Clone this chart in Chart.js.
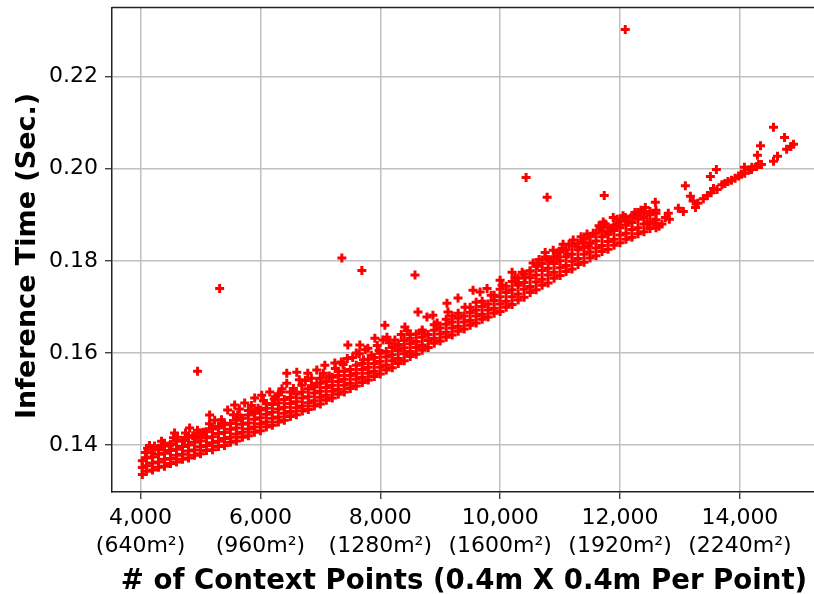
<!DOCTYPE html>
<html>
<head>
<meta charset="utf-8">
<script src="https://cdn.jsdelivr.net/npm/chart.js@4.4.0/dist/chart.umd.min.js"></script>
<style>
  html, body { margin: 0; padding: 0; background: #fff; overflow: hidden; }
  canvas { display: block; }
</style>
</head>
<body>
<canvas id="chart" width="830" height="594"></canvas>
<script>
// tick labels
const xTicks = [4000, 6000, 8000, 10000, 12000, 14000];
const xTickAreas = ['(640m²)', '(960m²)', '(1280m²)', '(1600m²)', '(1920m²)', '(2240m²)'];
const yTicks = [0.14, 0.16, 0.18, 0.20, 0.22];
const yTitle = 'Inference Time (Sec.)';

// dense main band, read column by column (low / mid / high edge)
const colX = [4030, 4100, 4200, 4300, 4400, 4500, 4600, 4700, 4800, 4900,
  5000, 5100, 5200, 5300, 5400, 5500, 5600, 5700, 5800, 5900,
  6000, 6100, 6200, 6300, 6400, 6500, 6600, 6700, 6800, 6900,
  7000, 7100, 7200, 7300, 7400, 7500, 7600, 7700, 7800, 7900,
  8000, 8100, 8200, 8300, 8400, 8500, 8600, 8700, 8800, 8900,
  9000, 9100, 9200, 9300, 9400, 9500, 9600, 9700, 9800, 9900,
  10000, 10100, 10200, 10300, 10400, 10500, 10600, 10700, 10800, 10900,
  11000, 11100, 11200, 11300, 11400, 11500, 11600, 11700, 11800, 11900,
  12000, 12100, 12200, 12300, 12400, 12500, 12600];
const lowY = [.1336, .1343, .1346, .1352, .1354, .1360, .1363, .1369, .1372, .1378,
  .1381, .1388, .1390, .1397, .1399, .1406, .1409, .1417, .1420, .1428,
  .1431, .1439, .1443, .1450, .1454, .1462, .1466, .1474, .1477, .1485,
  .1489, .1497, .1502, .1510, .1515, .1523, .1528, .1536, .1541, .1549,
  .1554, .1563, .1568, .1577, .1583, .1592, .1597, .1606, .1612, .1621,
  .1626, .1634, .1639, .1647, .1652, .1660, .1665, .1673, .1678, .1686,
  .1690, .1699, .1705, .1715, .1721, .1731, .1737, .1747, .1752, .1762,
  .1768, .1777, .1782, .1792, .1797, .1806, .1811, .1820, .1825, .1834,
  .1839, .1847, .1851, .1859, .1863, .1870, .1872];
const midY = [.1351, .1355, .1361, .1363, .1369, .1371, .1378, .1380, .1387, .1389,
  .1396, .1399, .1405, .1408, .1414, .1417, .1424, .1428, .1435, .1439,
  .1446, .1450, .1458, .1461, .1469, .1473, .1481, .1485, .1492, .1496,
  .1504, .1508, .1517, .1521, .1530, .1534, .1543, .1547, .1556, .1560,
  .1569, .1574, .1583, .1588, .1598, .1603, .1612, .1617, .1627, .1632,
  .1641, .1645, .1654, .1658, .1667, .1671, .1680, .1684, .1693, .1697,
  .1706, .1712, .1722, .1728, .1738, .1744, .1754, .1760, .1769, .1775,
  .1785, .1790, .1799, .1805, .1814, .1819, .1828, .1833, .1842, .1847,
  .1856, .1860, .1868, .1872, .1880, .1883, .1889];
const highY = [.1366, .1372, .1374, .1380, .1382, .1388, .1391, .1397, .1400, .1406,
  .1409, .1416, .1418, .1425, .1427, .1434, .1437, .1445, .1448, .1456,
  .1459, .1467, .1471, .1478, .1482, .1490, .1494, .1502, .1505, .1513,
  .1517, .1525, .1530, .1538, .1543, .1551, .1556, .1564, .1569, .1577,
  .1582, .1591, .1596, .1605, .1611, .1620, .1625, .1634, .1640, .1649,
  .1654, .1662, .1667, .1675, .1680, .1688, .1693, .1701, .1706, .1714,
  .1722, .1731, .1737, .1747, .1753, .1763, .1769, .1779, .1784, .1794,
  .1800, .1809, .1814, .1824, .1829, .1838, .1843, .1852, .1857, .1866,
  .1872, .1878, .1883, .1890, .1894, .1900, .1903];

// filled zone just above the main band
const fillX = [4080, 4200, 4300, 4400, 4500, 4600, 4700, 4800, 4900,
  5000, 5100, 5200, 5300, 5400, 5500, 5600, 5700, 5800, 5900,
  6000, 6100, 6200, 6300, 6400, 6500, 6600, 6700, 6800, 6900,
  7000, 7100, 7200, 7300, 7400, 7500, 7600, 7700, 7800, 7900,
  8000, 8100, 8200, 8300, 8400, 8500, 8600, 8700, 8900, 9100, 9300, 9500, 9700, 9900,
  10000, 10100, 10200, 10300, 10400, 10500, 10600, 10700, 10800, 10900,
  11000, 11100, 11200, 11300, 11400, 11500, 11600, 11700, 11800, 11900,
  12000, 12100, 12200, 12300, 12400, 12500, 12600];
const fillY = [.1384, .1391, .1393, .1399, .1401, .1408, .1410, .1417, .1419,
  .1426, .1429, .1435, .1437, .1444, .1447, .1454, .1458, .1465, .1469,
  .1476, .1480, .1488, .1491, .1499, .1503, .1511, .1515, .1522, .1526,
  .1534, .1538, .1547, .1551, .1560, .1564, .1573, .1577, .1586, .1590,
  .1599, .1603, .1612, .1617, .1627, .1632, .1641, .1646, .1661, .1673, .1686, .1699, .1712, .1725,
  .1738, .1745, .1755, .1762, .1771, .1778, .1788, .1794, .1803, .1809,
  .1819, .1824, .1833, .1838, .1847, .1852, .1860, .1865, .1873, .1877,
  .1886, .1890, .1896, .1899, .1905, .1907, .1910];

// second, looser row above that
const fill2X = [4150, 4350, 4550, 4750, 4950, 5150, 5350, 5550, 5650, 5850,
  6050, 6250, 6350, 6550, 6650, 6850, 7050, 7250, 7350, 7450,
  7650, 7750, 7950, 8150, 8350, 8450, 10550, 10650, 10750, 10950,
  11050, 11150, 11350, 11450, 11650, 11750, 11950, 12050, 12250, 12350];
const fill2Y = [.1399, .1408, .1416, .1426, .1432, .1446, .1455, .1466, .1478, .1486,
  .1496, .1505, .1515, .1523, .1542, .1545, .1556, .1566, .1580, .1588,
  .1598, .1607, .1616, .1622, .1640, .1648, .1795, .1803, .1808, .1817,
  .1836, .1836, .1852, .1858, .1876, .1880, .1890, .1898, .1905, .1910];

// scattered runs sitting above the main band
const upperX = [4117, 4184, 4234, 4300, 4401, 4480, 4568, 4618, 4735, 4819, 4870, 4936,
  5050, 5153, 5237, 5300, 5380, 5454, 5571, 5621, 5680, 5738, 5800, 5905, 5905, 5960,
  6022, 6100, 6156, 6230, 6300, 6360, 6440, 6440, 6500, 6607, 6690, 6750, 6791, 6850,
  6941, 6941, 7000, 7075, 7150, 7242, 7300, 7380, 7459, 7540, 7600, 7659, 7720, 7793,
  7850, 7910, 7980, 8044, 8077, 8111, 8244, 8300, 8411, 8500, 8629, 8700, 8779, 8879,
  8950, 9113, 9130, 9200, 9297, 9414, 9548, 9600, 9665, 9782, 9850, 9999, 10032, 10199,
  10250, 10300, 10367, 10417, 10500, 10620, 10751, 10820, 10885, 10950, 11035, 11120,
  11219, 11300, 11386, 11470, 11553, 11670, 11720, 11800, 11887, 11887, 11960, 12088,
  12138, 12221, 12300, 12422, 12455, 12556, 12589];
const upperY = [.1393, .1383, .1398, .1390, .1404, .1398, .1426, .1417, .1411, .1437, .1420, .1415,
  .1428, .1465, .1454, .1440, .1448, .1476, .1487, .1465, .1458, .1491, .1475, .1502, .1472, .1480,
  .1508, .1490, .1515, .1500, .1510, .1522, .1556, .1534, .1515, .1558, .1530, .1540, .1556, .1528,
  .1563, .1534, .1545, .1573, .1550, .1578, .1560, .1575, .1617, .1590, .1600, .1617, .1585, .1610,
  .1595, .1632, .1605, .1628, .1660, .1634, .1628, .1618, .1656, .1640, .1689, .1650, .1678, .1682,
  .1665, .1708, .1689, .1680, .1719, .1699, .1736, .1710, .1732, .1740, .1725, .1758, .1747, .1775,
  .1764, .1751, .1775, .1764, .1778, .1790, .1818, .1800, .1823, .1808, .1827, .1815,
  .1845, .1830, .1840, .1832, .1860, .1871, .1884, .1862, .1894, .1871, .1880, .1894,
  .1884, .1899, .1905, .1916, .1881, .1884, .1927];

// thinner run on the right
const tailX = [12650, 12700, 12756, 12806, 12823, 12973, 13057, 13174, 13220, 13260, 13300,
  13390, 13458, 13520, 13560, 13620, 13700, 13750, 13800, 13860, 13920, 13980, 14026,
  14080, 14150, 14200, 14280, 14360, 14561, 14628, 14780, 14850, 14895];
const tailY = [.1875, .1880, .1894, .1903, .1890, .1914, .1907, .1940, .1930, .1916, .1925,
  .1935, .1942, .1948, .1957, .1955, .1965, .1968, .1972, .1975, .1979, .1984, .1988,
  .1990, .1997, .2003, .2005, .2009, .2016, .2027, .2042, .2048, .2053];

// isolated outliers
const outlierX = [4952, 5320, 7359, 7693, 8579, 10433, 10784, 11737, 12088, 13090,
  13508, 13608, 14076, 14193, 14293, 14310, 14344, 14561, 14745];
const outlierY = [.1560, .1740, .1806, .1779, .1769, .1981, .1938, .1942, .2302, .1963,
  .1983, .1998, .2003, .1998, .2029, .2009, .2050, .2090, .2068];

function pts(xs, ys) {
  return xs.map((x, i) => ({ x: x, y: ys[i] }));
}

const marker = {
  pointStyle: 'cross',
  pointRadius: 4.5,
  pointBorderWidth: 3,
  borderColor: '#ff0000',
  backgroundColor: '#ff0000',
  showLine: false
};

const datasets = [
  { data: pts(colX, lowY) },
  { data: pts(colX, midY) },
  { data: pts(colX, highY) },
  { data: pts(fillX, fillY) },
  { data: pts(fill2X, fill2Y) },
  { data: pts(upperX, upperY) },
  { data: pts(tailX, tailY) },
  { data: pts(outlierX, outlierY) }
].map(d => Object.assign({}, marker, d));

const font = 'DejaVu Sans';

// top spine + y title (matplotlib puts it a bit below the axis centre)
const extras = {
  id: 'extras',
  afterDraw(chart) {
    const { ctx, chartArea } = chart;
    ctx.save();
    ctx.strokeStyle = '#222';
    ctx.lineWidth = 1.5;
    ctx.beginPath();
    ctx.moveTo(chartArea.left, chartArea.top);
    ctx.lineTo(chartArea.right, chartArea.top);
    ctx.stroke();

    ctx.translate(28, 256);
    ctx.rotate(-Math.PI / 2);
    ctx.fillStyle = '#000';
    ctx.font = 'bold 27px "' + font + '"';
    ctx.textAlign = 'center';
    ctx.textBaseline = 'middle';
    ctx.fillText(yTitle, 0, 0);
    ctx.restore();
  }
};

new Chart(document.getElementById('chart'), {
  type: 'scatter',
  data: { datasets },
  options: {
    responsive: false,
    animation: false,
    layout: { padding: { top: 7, left: 0, right: 14, bottom: 0 } },
    plugins: { legend: { display: false }, tooltip: { enabled: false } },
    scales: {
      x: {
        type: 'linear',
        min: 3524,
        max: 15270,
        afterBuildTicks: s => { s.ticks = xTicks.map(v => ({ value: v })); },
        afterFit: s => { s.height = 102; s.paddingLeft = 0; s.paddingRight = 0; },
        ticks: {
          autoSkip: false,
          maxRotation: 0,
          padding: 5,
          color: '#000',
          font: { family: font, size: 22, lineHeight: 1.27 },
          callback: (v, i) => [v.toLocaleString('en-US'), xTickAreas[i]]
        },
        grid: { color: '#c0c0c0', lineWidth: 1.5, tickColor: '#222', tickLength: 7, tickWidth: 1.2 },
        border: { color: '#222', width: 1.5 },
        title: {
          display: true,
          text: '# of Context Points (0.4m X 0.4m Per Point)',
          color: '#000',
          font: { family: font, size: 27.6, weight: 'bold', lineHeight: 1.2 },
          padding: { top: 0, bottom: -4 }
        }
      },
      y: {
        type: 'linear',
        min: 0.1298,
        max: 0.235,
        afterBuildTicks: s => { s.ticks = yTicks.map(v => ({ value: v })); },
        afterFit: s => { s.width = 112; s.paddingTop = 0; s.paddingBottom = 0; },
        ticks: {
          padding: 7,
          color: '#000',
          font: { family: font, size: 22 },
          callback: v => v.toFixed(2)
        },
        grid: { color: '#c0c0c0', lineWidth: 1.5, tickColor: '#222', tickLength: 7, tickWidth: 1.2 },
        border: { color: '#222', width: 1.5 },
        title: { display: false }
      }
    }
  },
  plugins: [extras]
});
</script>
</body>
</html>
